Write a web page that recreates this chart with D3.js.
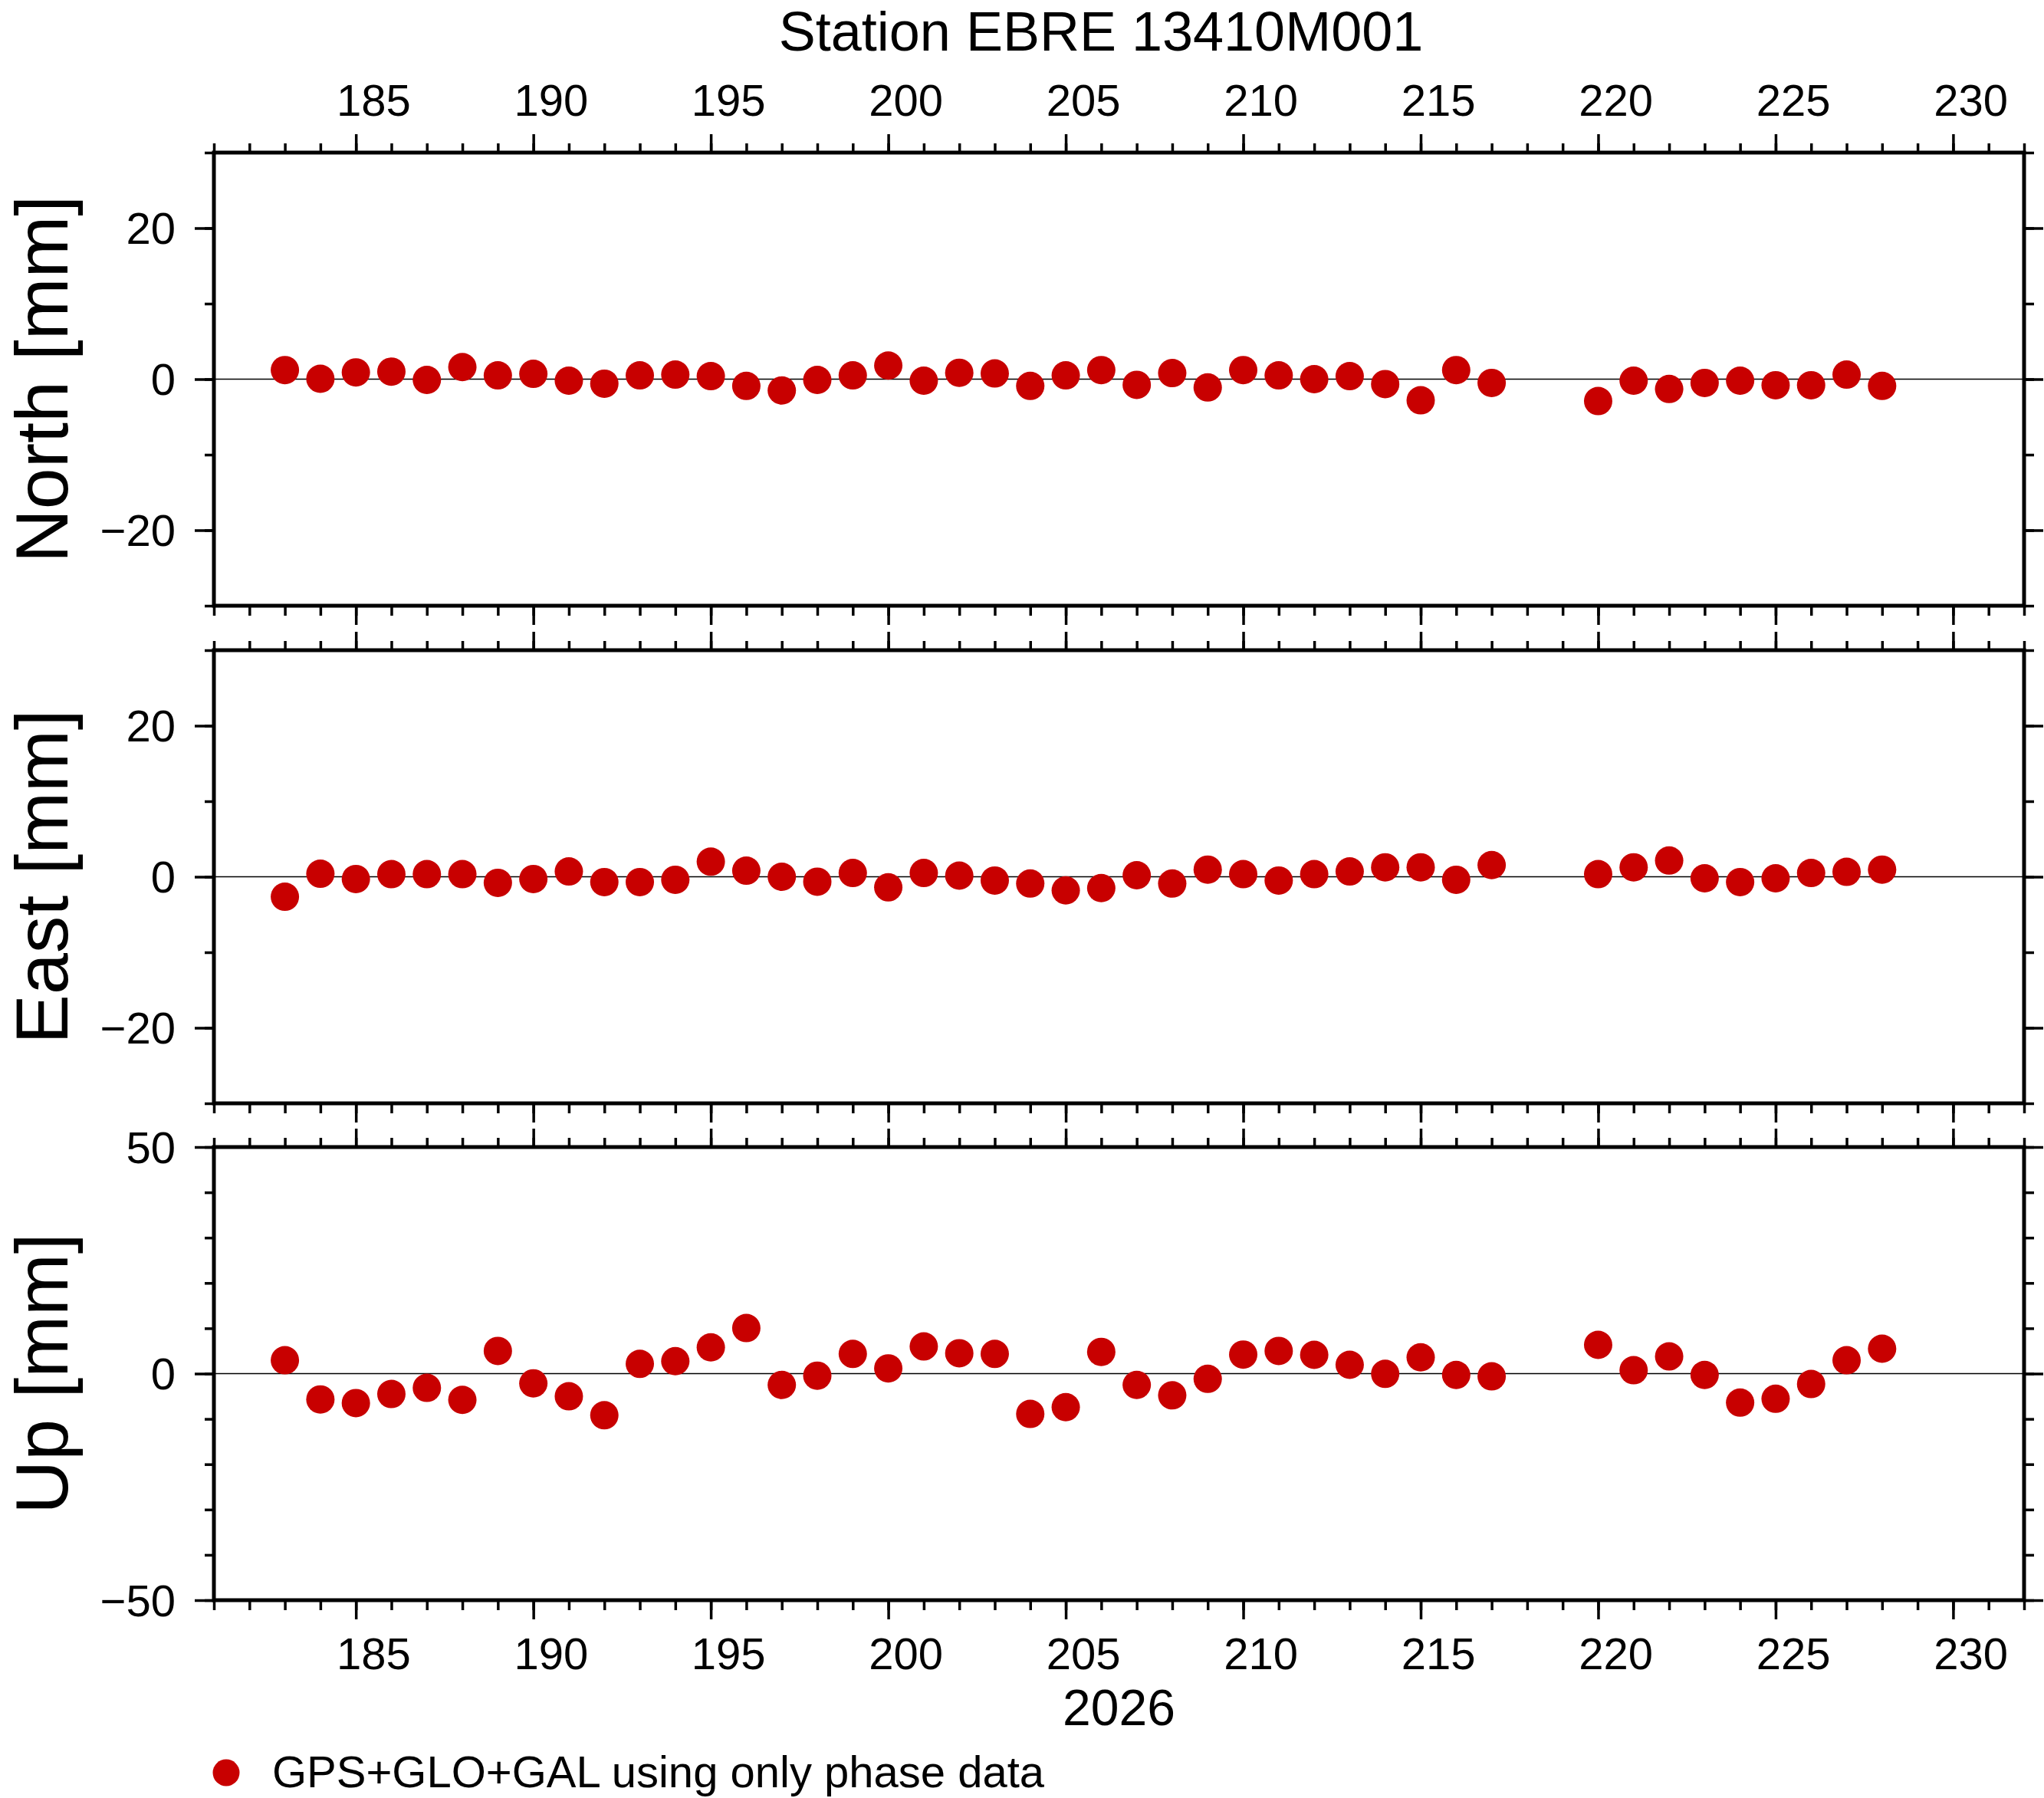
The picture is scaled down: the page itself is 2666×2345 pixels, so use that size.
<!DOCTYPE html>
<html>
<head>
<meta charset="utf-8">
<script src="https://cdn.jsdelivr.net/npm/d3@7"></script>
<style>
  body { margin: 0; background: #fff; }
  svg { display: block; font-family: "Liberation Sans", Arial, Helvetica, sans-serif; }
</style>
</head>
<body>
<svg id="chart"></svg>
<script>
// Daily station residuals (mm), day of year 2026

const days = [183, 184, 185, 186, 187, 188, 189, 190, 191, 192,
              193, 194, 195, 196, 197, 198, 199, 200, 201, 202,
              203, 204, 205, 206, 207, 208, 209, 210, 211, 212,
              213, 214, 215, 216, 217,
              220, 221, 222, 223, 224, 225, 226, 227, 228];

const north = [1.2, 0.05, 0.9, 1.0, -0.1, 1.6, 0.5, 0.7, -0.2, -0.6,
               0.5, 0.6, 0.4, -0.9, -1.5, -0.1, 0.5, 1.8, -0.2, 0.85,
               0.75, -0.9, 0.5, 1.2, -0.75, 0.8, -1.1, 1.2, 0.5, 0,
               0.4, -0.65, -2.8, 1.2, -0.5,
               -2.9, -0.2, -1.3, -0.5, -0.2, -0.8, -0.8, 0.6, -0.9];

const east = [-2.65, 0.4, -0.3, 0.35, 0.35, 0.35, -0.8, -0.3, 0.7, -0.7,
              -0.7, -0.4, 2.0, 0.8, 0, -0.65, 0.5, -1.4, 0.5, 0.15,
              -0.5, -0.9, -1.8, -1.5, 0.2, -0.9, 0.95, 0.35, -0.5, 0.35,
              0.7, 1.25, 1.25, -0.4, 1.55,
              0.35, 1.25, 2.15, -0.2, -0.7, -0.2, 0.5, 0.65, 0.95];

const up = [2.95, -5.7, -6.5, -4.5, -3.15, -5.8, 5.0, -2.15, -5.0, -9.2,
            2.15, 2.75, 5.8, 10.05, -2.5, -0.45, 4.35, 1.15, 6.0, 4.5,
            4.35, -8.9, -7.4, 4.8, -2.5, -4.8, -1.15, 4.2, 5.0, 4.15,
            1.95, -0.05, 3.6, -0.3, -0.6,
            6.35, 0.75, 3.8, -0.3, -6.4, -5.55, -2.3, 2.95, 5.5];

const dayDomain = [181, 232];
const dayLabels = [185, 190, 195, 200, 205, 210, 215, 220, 225, 230];

const panelNames = ["North [mm]", "East [mm]", "Up [mm]"];
const panelValues = [north, east, up];
const panelDomains = [[-30, 30], [-30, 30], [-50, 50]];
const panelMajor = [[-20, 0, 20], [-20, 0, 20], [-50, 0, 50]];
const panelMinorStep = [10, 10, 10];

const title = "Station EBRE 13410M001";
const yearLabel = "2026";
const legendLabel = "GPS+GLO+GAL using only phase data";

// Layout
const W = 2666, H = 2345;
const left = 279, right = 2640;
const panelTops = [199, 848, 1496];
const panelH = 591;
const dotColor = "#c80000";
const minus = s => String(s).replace("-", "\u2212");

const svg = d3.select("#chart")
    .attr("width", W)
    .attr("height", H);

svg.append("rect").attr("width", W).attr("height", H).attr("fill", "#fff");

const x = d3.scaleLinear().domain(dayDomain).range([left, right]);
const minorDays = d3.range(dayDomain[0], dayDomain[1] + 1);

function styleAxis(g) {
    g.select(".domain").remove();
    g.selectAll(".tick line").attr("stroke", "#000").attr("stroke-width", 3.5);
    g.selectAll(".tick text").remove();
}

panelNames.forEach((name, i) => {
    const top = panelTops[i];
    const bottom = top + panelH;
    const y = d3.scaleLinear().domain(panelDomains[i]).range([bottom, top]);
    const minorY = d3.range(panelDomains[i][0], panelDomains[i][1] + 0.001, panelMinorStep[i]);

    const g = svg.append("g").attr("class", "panel");

    // x ticks on top and bottom, outward
    g.append("g").attr("transform", `translate(0,${top})`)
        .call(d3.axisTop(x).tickValues(minorDays).tickSize(12)).call(styleAxis);
    g.append("g").attr("transform", `translate(0,${top})`)
        .call(d3.axisTop(x).tickValues(dayLabels).tickSize(24)).call(styleAxis);
    g.append("g").attr("transform", `translate(0,${bottom})`)
        .call(d3.axisBottom(x).tickValues(minorDays).tickSize(13)).call(styleAxis);
    g.append("g").attr("transform", `translate(0,${bottom})`)
        .call(d3.axisBottom(x).tickValues(dayLabels).tickSize(25)).call(styleAxis);

    // y ticks on left and right
    g.append("g").attr("transform", `translate(${left},0)`)
        .call(d3.axisLeft(y).tickValues(minorY).tickSize(12)).call(styleAxis);
    g.append("g").attr("transform", `translate(${left},0)`)
        .call(d3.axisLeft(y).tickValues(panelMajor[i]).tickSize(25)).call(styleAxis);
    g.append("g").attr("transform", `translate(${right},0)`)
        .call(d3.axisRight(y).tickValues(minorY).tickSize(13)).call(styleAxis);
    g.append("g").attr("transform", `translate(${right},0)`)
        .call(d3.axisRight(y).tickValues(panelMajor[i]).tickSize(25)).call(styleAxis);

    // y tick labels
    g.selectAll("text.ylab")
        .data(panelMajor[i])
        .enter().append("text")
        .attr("class", "ylab")
        .attr("x", left - 50)
        .attr("y", d => y(d))
        .attr("dy", "0.36em")
        .attr("text-anchor", "end")
        .style("font-size", "58px")
        .text(d => minus(d));

    // zero line
    g.append("line")
        .attr("x1", left).attr("x2", right)
        .attr("y1", y(0)).attr("y2", y(0))
        .attr("stroke", "#000")
        .attr("stroke-width", 1.3);

    // points
    g.selectAll("circle.pt")
        .data(days.map((d, k) => ({day: d, v: panelValues[i][k]})))
        .enter().append("circle")
        .attr("class", "pt")
        .attr("cx", d => x(d.day))
        .attr("cy", d => y(d.v))
        .attr("r", 18.5)
        .attr("fill", dotColor);

    // frame
    g.append("rect")
        .attr("x", left).attr("y", top)
        .attr("width", right - left).attr("height", panelH)
        .attr("fill", "none")
        .attr("stroke", "#000")
        .attr("stroke-width", 5);

    // axis title (rotated)
    g.append("text")
        .attr("transform", `translate(88,${(top + bottom) / 2}) rotate(-90)`)
        .attr("text-anchor", "middle")
        .style("font-size", "97px")
        .text(name);
});

// day labels: centred on the day interval (top of first panel, bottom of last)
svg.append("g").selectAll("text")
    .data(dayLabels)
    .enter().append("text")
    .attr("x", d => x(d + 0.5))
    .attr("y", 151)
    .attr("text-anchor", "middle")
    .style("font-size", "58px")
    .text(d => d);

svg.append("g").selectAll("text")
    .data(dayLabels)
    .enter().append("text")
    .attr("x", d => x(d + 0.5))
    .attr("y", 2177)
    .attr("text-anchor", "middle")
    .style("font-size", "58px")
    .text(d => d);

svg.append("text")
    .attr("x", (left + right) / 2)
    .attr("y", 2250)
    .attr("text-anchor", "middle")
    .style("font-size", "66px")
    .text(yearLabel);

svg.append("text")
    .attr("x", 1436)
    .attr("y", 66)
    .attr("text-anchor", "middle")
    .style("font-size", "72px")
    .text(title);

// legend
svg.append("circle")
    .attr("cx", 295).attr("cy", 2312)
    .attr("r", 17.5)
    .attr("fill", dotColor);

svg.append("text")
    .attr("x", 355)
    .attr("y", 2331)
    .style("font-size", "58px")
    .text(legendLabel);
</script>
</body>
</html>
